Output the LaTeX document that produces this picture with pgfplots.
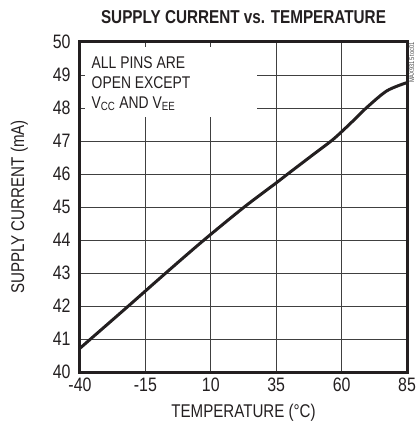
\documentclass[border=0pt]{standalone}
\usepackage{pgfplots}
\pgfplotsset{compat=1.18}
\usepackage{fontspec}
\setmainfont{Liberation Sans}[FakeStretch=0.82]
\begin{document}
\begin{tikzpicture}
\definecolor{ink}{HTML}{231F20}
\begin{axis}[
  scale only axis,
  width=327bp, height=330bp,
  xmin=-40, xmax=85, ymin=40, ymax=50,
  xtick={-40,-15,10,35,60,85},
  ytick={40,41,...,50},
  grid=major,
  major grid style={draw=black!75, line width=0.9bp},
  axis line style={draw=ink, line width=3bp},
  tick style={draw=black!75, line width=0.9bp},
  major tick length=5bp,
  tick align=inside,
  /pgf/number format/assume math mode=true,
  every tick label/.append style={font=\fontsize{19.5}{22}\selectfont, text=ink},
  xticklabel style={yshift=-2.5bp},
  yticklabel style={xshift=-6bp},
  xlabel={TEMPERATURE (\textdegree C)},
  ylabel={SUPPLY CURRENT (mA)},
  every axis label/.append style={font=\fontsize{18.5}{21}\selectfont, text=ink},
  xlabel style={yshift=-6bp},
  ylabel style={yshift=18bp},
  title={\textbf{SUPPLY CURRENT vs. TEMPERATURE}},
  title style={font=\fontsize{18.7}{21}\selectfont, text=ink, yshift=9bp},
  clip=false,
]
\fill[white] (axis cs:-38.1,47.73) rectangle (axis cs:27.7,49.85);
\node[anchor=north west, align=left, font=\fontsize{17}{20}\selectfont, text=ink, inner sep=0pt]
  at (axis cs:-35.6,49.56) {ALL PINS ARE\\OPEN EXCEPT\\V\textsubscript{CC} AND V\textsubscript{EE}};
\addplot[ink, line width=3bp, smooth, tension=0.5] coordinates {
(-40,40.72) (-21.5,42.0) (-7.2,43.0) (7.4,44.0) (22.8,45.0) (35,45.73)
(39.4,46.0) (48,46.52) (56,47.0) (60,47.28) (64.5,47.62) (69.4,48.0) (77.3,48.52) (85,48.77)
};
\node[rotate=90, anchor=north east, font=\fontsize{7}{8}\selectfont, text=black!70, inner sep=0pt]
  at ([xshift=2bp]rel axis cs:1,1) {MAX9315 toc01};
\end{axis}
\pgfresetboundingbox
\path ([xshift=-80bp,yshift=-63bp]current axis.south west) rectangle ([xshift=11bp,yshift=42bp]current axis.north east);
\end{tikzpicture}
\end{document}
